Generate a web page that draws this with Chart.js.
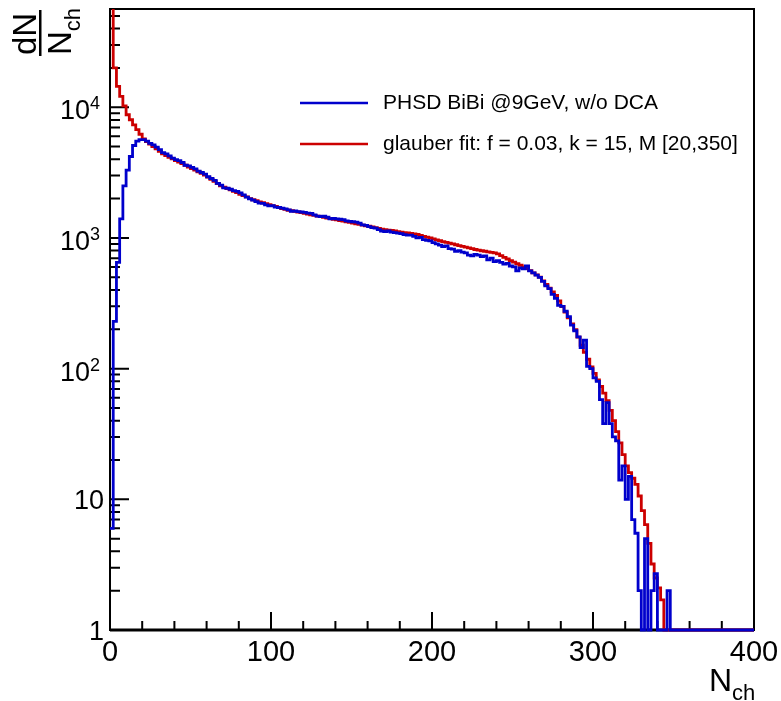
<!DOCTYPE html>
<html>
<head>
<meta charset="utf-8">
<title>dN/Nch</title>
<script src="https://cdn.jsdelivr.net/npm/chart.js@4"></script>
<style>
  html, body { margin: 0; padding: 0; background: #fff; }
  canvas { display: block; }
</style>
</head>
<body>
<canvas id="nchChart" width="781" height="701"></canvas>
<script>
// histogram binning (N_ch), 2 units per bin
const binWidth = 2;
const xMin = 0;
const xMax = 400;
const yMin = 1;
const yMax = 56500;

const xTickLabels = ['0', '100', '200', '300', '400'];
const yDecades = [1, 10, 100, 1000, 10000];

const legendLabels = ['PHSD BiBi @9GeV, w/o DCA', 'glauber fit: f = 0.03, k = 15, M [20,350]'];

// PHSD histogram (blue)
const phsd = [
    6, 230, 650, 1400, 2500, 3300, 4200, 5100, 5500, 5650,
    5650, 5500, 5300, 5150, 4950, 4750, 4500, 4400, 4250, 4080,
    3980, 3900, 3780, 3600, 3560, 3470, 3380, 3250, 3170, 3080,
    2940, 2850, 2760, 2620, 2540, 2420, 2400, 2360, 2300, 2270,
    2210, 2140, 2050, 1990, 1950, 1900, 1850, 1840, 1790, 1760,
    1770, 1720, 1710, 1690, 1670, 1640, 1600, 1610, 1590, 1580,
    1570, 1550, 1540, 1500, 1470, 1460, 1470, 1440, 1400, 1410,
    1400, 1390, 1380, 1350, 1340, 1330, 1320, 1300, 1260, 1250,
    1220, 1200, 1190, 1160, 1130, 1120, 1130, 1110, 1100, 1090,
    1080, 1060, 1050, 1050, 1030, 1000, 1010, 970, 960, 950,
    920, 900, 880, 860, 870, 830, 820, 790, 800, 780,
    770, 740, 730, 750, 740, 720, 730, 680, 700, 660,
    670, 650, 630, 640, 610, 600, 560, 590, 580, 610,
    560, 540, 520, 500, 465, 430, 410, 370, 345, 305,
    300, 275, 250, 215, 195, 175, 145, 165, 104, 100,
    85, 80, 58, 38, 55, 38, 30, 28, 14, 18,
    10, 15, 7, 5.5, 2, 1, 5, 1, 2, 2.7,
    1, 1, 1, 2, 1, 1, 1, 1, 1, 1,
    1, 1, 1, 1, 1, 1, 1, 1, 1, 1,
    1, 1, 1, 1, 1, 1, 1, 1, 1, 1
];

// glauber fit (red)
const glauberFit = [
    70000, 20000, 14450, 12100, 10260, 8770, 8030, 7340, 6740, 6220,
    5740, 5460, 5230, 5010, 4810, 4600, 4410, 4260, 4140, 4030,
    3915, 3800, 3700, 3600, 3490, 3400, 3300, 3210, 3120, 3030,
    2920, 2810, 2710, 2610, 2510, 2450, 2390, 2330, 2270, 2220,
    2160, 2110, 2060, 2000, 1960, 1930, 1890, 1860, 1830, 1800,
    1770, 1740, 1710, 1680, 1655, 1630, 1615, 1595, 1580, 1560,
    1540, 1525, 1505, 1490, 1470, 1455, 1440, 1420, 1405, 1390,
    1375, 1360, 1345, 1330, 1315, 1300, 1285, 1270, 1255, 1240,
    1230, 1215, 1200, 1185, 1170, 1160, 1150, 1140, 1130, 1120,
    1110, 1100, 1095, 1085, 1075, 1063, 1047, 1030, 1015, 1000,
    984, 968, 953, 938, 925, 912, 900, 887, 875, 863,
    851, 839, 828, 816, 807, 798, 791, 783, 776, 769,
    755, 733, 711, 690, 671, 653, 635, 618, 601, 583,
    562, 541, 521, 501, 470, 441, 413, 387, 363, 330,
    299, 271, 245, 220, 199, 174, 151, 133, 118, 103,
    92, 82, 73, 65, 57, 48, 40, 33, 27, 22,
    18, 16, 14.5, 13, 10.6, 8.2, 6.4, 4.6, 3.2, 2.5,
    2.1, 1.7, 1, 1, 1, 1, 1, 1, 1, 1,
    1, 1, 1, 1, 1, 1, 1, 1, 1, 1,
    1, 1, 1, 1, 1, 1, 1, 1, 1, 1
];

const FONT = '"Liberation Sans", Arial, Helvetica, sans-serif';

// bin contents -> step points (left edges + closing right edge)
function histPoints(values) {
    const pts = values.map((v, i) => ({ x: xMin + i * binWidth, y: v }));
    pts.push({ x: xMin + values.length * binWidth, y: values[values.length - 1] });
    return pts;
}

// ROOT-like frame: box, inner ticks, labels, titles, legend
const rootFrame = {
    id: 'rootFrame',
    beforeDatasetsDraw(chart) {
        const { ctx, chartArea: a, scales: { x, y } } = chart;
        ctx.save();
        ctx.strokeStyle = '#000';
        ctx.fillStyle = '#000';
        ctx.lineWidth = 2;
        ctx.strokeRect(a.left, a.top, a.right - a.left, a.bottom - a.top);
        // bottom axis is drawn heavier
        ctx.lineWidth = 3;
        ctx.beginPath();
        ctx.moveTo(a.left, a.bottom);
        ctx.lineTo(a.right, a.bottom);
        ctx.stroke();

        // ticks
        ctx.lineWidth = 2;
        ctx.beginPath();
        for (let v = xMin; v <= xMax; v += 20) {
            const px = x.getPixelForValue(v);
            const len = v % 100 === 0 ? 18 : 9;
            ctx.moveTo(px, a.bottom);
            ctx.lineTo(px, a.bottom - len);
        }
        yDecades.forEach(d => {
            for (let m = 1; m <= 9; m++) {
                const v = m * d;
                if (v > yMax) break;
                const py = y.getPixelForValue(v);
                ctx.moveTo(a.left, py);
                ctx.lineTo(a.left + (m === 1 ? 19 : 10), py);
            }
        });
        ctx.stroke();

        // x labels
        ctx.font = '29px ' + FONT;
        ctx.textAlign = 'center';
        ctx.textBaseline = 'alphabetic';
        xTickLabels.forEach(t => {
            ctx.fillText(t, x.getPixelForValue(Number(t)), 661);
        });

        // y labels
        yDecades.forEach((d, i) => {
            const py = y.getPixelForValue(d);
            ctx.textAlign = 'right';
            if (i < 2) {
                ctx.font = '27px ' + FONT;
                ctx.fillText(String(d), 104, py + 10);
            } else {
                ctx.font = '18px ' + FONT;
                const w = ctx.measureText(String(i)).width;
                ctx.fillText(String(i), 100, py + 2);
                ctx.font = '27px ' + FONT;
                ctx.fillText('10', 100 - w, py + 12);
            }
        });

        // x title N_ch
        ctx.textAlign = 'left';
        ctx.font = '32px ' + FONT;
        ctx.fillText('N', 709, 691);
        const nW = ctx.measureText('N').width;
        ctx.font = '22px ' + FONT;
        ctx.fillText('ch', 709 + nW, 700);

        // y title dN / N_ch (rotated)
        ctx.save();
        ctx.rotate(-Math.PI / 2);
        ctx.font = '33px ' + FONT;
        ctx.fillText('dN', -55, 36);
        ctx.fillText('N', -55, 71);
        const nW2 = ctx.measureText('N').width;
        ctx.font = '22px ' + FONT;
        ctx.fillText('ch', -55 + nW2, 80);
        ctx.fillRect(-56, 39, 46, 2.5);
        ctx.restore();

        // legend
        const rows = [103, 144];
        ctx.font = '21px ' + FONT;
        ctx.textBaseline = 'middle';
        chart.data.datasets.forEach((ds, i) => {
            ctx.strokeStyle = ds.borderColor;
            ctx.lineWidth = 2.5;
            ctx.beginPath();
            ctx.moveTo(300, rows[i]);
            ctx.lineTo(368, rows[i]);
            ctx.stroke();
            ctx.fillStyle = '#000';
            ctx.fillText(ds.label, 383, rows[i]);
        });
        ctx.restore();
    }
};

document.addEventListener('DOMContentLoaded', () => {
    const ctx = document.getElementById('nchChart');

    new Chart(ctx, {
        type: 'line',
        data: {
            datasets: [
                {
                    label: legendLabels[0],
                    data: histPoints(phsd),
                    borderColor: '#0000cc',
                    borderWidth: 2.8,
                    stepped: true,
                    pointRadius: 0,
                    fill: false,
                    clip: { left: 2, top: 0, right: 0, bottom: 2 }
                },
                {
                    label: legendLabels[1],
                    data: histPoints(glauberFit),
                    borderColor: '#cc0000',
                    borderWidth: 2.8,
                    stepped: true,
                    pointRadius: 0,
                    fill: false,
                    clip: { left: 2, top: 0, right: 0, bottom: 2 }
                }
            ]
        },
        options: {
            responsive: false,
            animation: false,
            events: [],
            layout: { padding: { left: 110, right: 27, top: 9, bottom: 71 } },
            scales: {
                x: { type: 'linear', min: xMin, max: xMax, display: false },
                y: { type: 'logarithmic', min: yMin, max: yMax, display: false }
            },
            plugins: {
                legend: { display: false },
                tooltip: { enabled: false }
            }
        },
        plugins: [rootFrame]
    });
});
</script>
</body>
</html>
